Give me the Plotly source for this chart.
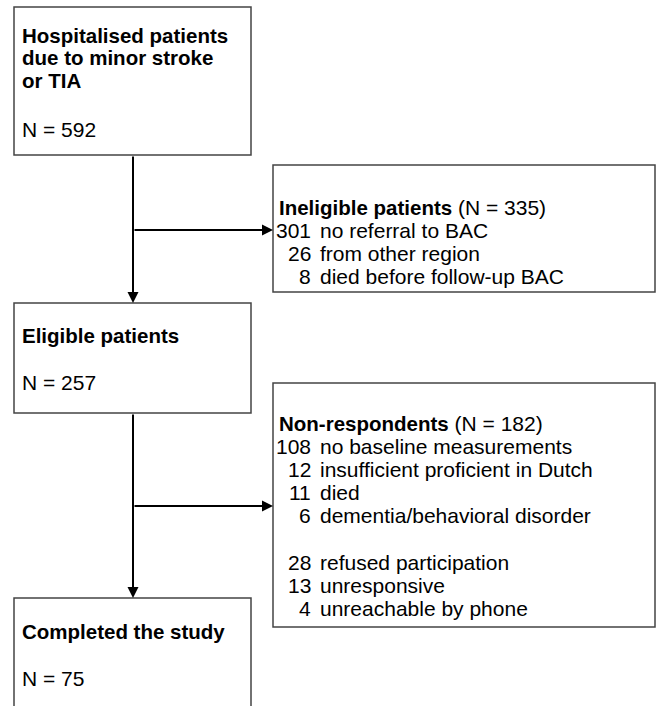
import plotly.graph_objects as go

# ---- data ----
stage_titles = [
    ["Hospitalised patients", "due to minor stroke", "or TIA"],
    ["Eligible patients"],
    ["Completed the study"],
]
stage_n = [592, 257, 75]

excl_titles = ["Ineligible patients", "Non-respondents"]
excl_n = [335, 182]
ineligible_counts = [301, 26, 8]
ineligible_reasons = ["no referral to BAC", "from other region", "died before follow-up BAC"]
nonresp_counts = [108, 12, 11, 6, None, 28, 13, 4]
nonresp_reasons = ["no baseline measurements", "insufficient proficient in Dutch", "died",
                   "dementia/behavioral disorder", None, "refused participation",
                   "unresponsive", "unreachable by phone"]

# ---- layout geometry (pixels) ----
W, H = 657, 706
FONT = "Liberation Sans, Arial, Helvetica, sans-serif"
FS = 21
FSB = 20.5
LS = 23.2
BORDER = "#444444"

stage_boxes = [(14, 7, 251, 155), (14, 303, 251, 413), (14, 598, 251, 720)]
stage_title_y = [35, 335, 631]
stage_n_y = [129, 382, 678]
excl_boxes = [(273, 165, 655, 292), (273, 383, 655, 627)]
excl_title_y = [207, 423]
spine_x = 133
branch_y = [230, 506]

num_right = 313
label_left = 318

fig = go.Figure()
shapes = []
ann = []

for (x0, y0, x1, y1) in stage_boxes + excl_boxes:
    shapes.append(dict(type="rect", xref="x", yref="y", x0=x0, y0=y0, x1=x1, y1=y1,
                       line=dict(color=BORDER, width=1.5), fillcolor="white", layer="below"))

def txt(x, y, s, anchor="left", size=FS):
    ann.append(dict(x=x, y=y, xref="x", yref="y", text=s, showarrow=False,
                    xanchor=anchor, yanchor="middle",
                    font=dict(family=FONT, size=size, color="black")))

for lines, ty, n, ny in zip(stage_titles, stage_title_y, stage_n, stage_n_y):
    for k, line in enumerate(lines):
        txt(20, ty + k * 22.5, f"<b>{line}</b>", size=FSB)
    txt(20, ny, f"N = {n}")

for t, ty, n in zip(excl_titles, excl_title_y, excl_n):
    txt(277, ty, f"<b><span style='font-size:{FSB}px'>{t}</span></b> (N = {n})")

for k, (c, r) in enumerate(zip(ineligible_counts, ineligible_reasons)):
    y = excl_title_y[0] + (k + 1) * LS
    txt(num_right, y, str(c), anchor="right")
    txt(label_left, y, r)

for k, (c, r) in enumerate(zip(nonresp_counts, nonresp_reasons)):
    if c is None:
        continue
    y = excl_title_y[1] + (k + 1) * LS
    txt(num_right, y, str(c), anchor="right")
    txt(label_left, y, r)

def arrow(x0, y0, x1, y1):
    ann.append(dict(x=x1, y=y1, ax=x0, ay=y0, xref="x", yref="y", axref="x", ayref="y",
                    text="", showarrow=True, arrowhead=2, arrowsize=1.1, arrowwidth=2,
                    arrowcolor="black", standoff=0, startstandoff=0))

# vertical flows
arrow(spine_x, stage_boxes[0][3], spine_x, stage_boxes[1][1])
arrow(spine_x, stage_boxes[1][3], spine_x, stage_boxes[2][1])
# branches
for by, eb in zip(branch_y, excl_boxes):
    arrow(spine_x, by, eb[0], by)

fig.update_layout(
    width=W, height=H, margin=dict(l=0, r=0, t=0, b=0),
    paper_bgcolor="white", plot_bgcolor="white",
    xaxis=dict(range=[0, W], visible=False, fixedrange=True),
    yaxis=dict(range=[H, 0], visible=False, fixedrange=True),
    shapes=shapes, annotations=ann, showlegend=False,
)
fig.write_html("out.html",
               config={"displayModeBar": False},
               post_script="document.body.style.margin='0';document.body.style.overflow='hidden';")
